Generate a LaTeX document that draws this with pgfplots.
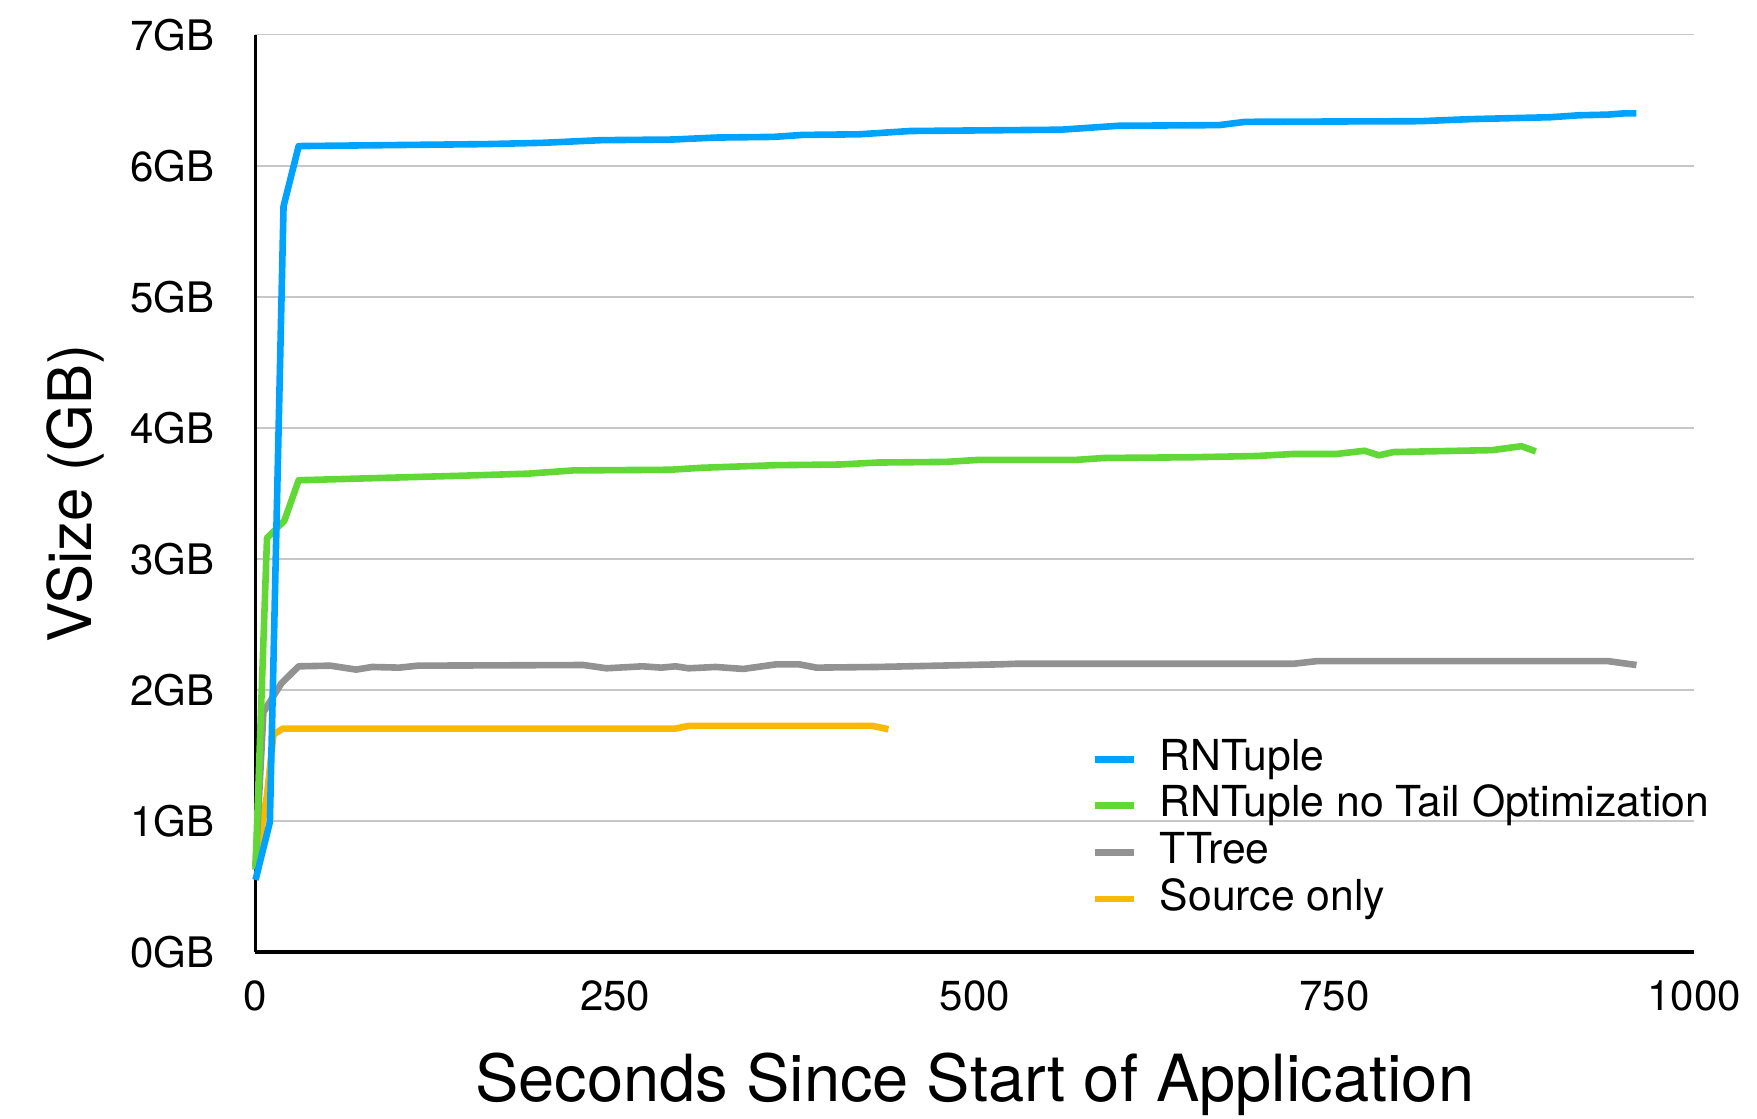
\documentclass[border=0pt]{standalone}
\usepackage{fontspec}
\setmainfont{TeX Gyre Heros}
\usepackage{pgfplots}
\pgfplotsset{compat=1.18}
\definecolor{cblue}{RGB}{0,162,255}
\definecolor{cgreen}{RGB}{97,216,54}
\definecolor{cgray}{RGB}{146,146,146}
\definecolor{cyellow}{RGB}{248,186,0}
\begin{document}
\begin{tikzpicture}
\useasboundingbox (0,0) rectangle (878.5pt,559.5pt);
\begin{axis}[
  at={(127.75pt,83.5pt)}, anchor=south west,
  scale only axis, width=719.25pt, height=458.65pt,
  xmin=0, xmax=1000, ymin=0, ymax=7,
  clip=false,
  axis x line=bottom, axis y line=left,
  axis line style={-, line width=1.6pt, black},
  major tick length=0pt,
  xtick={0,250,500,750,1000}, xticklabels={0,250,500,750,1000},
  ytick={0,1,2,3,4,5,6,7}, yticklabels={0GB,1GB,2GB,3GB,4GB,5GB,6GB,7GB},
  ymajorgrids, grid style={line width=0.8pt, color=black!22},
  ticklabel style={font=\fontsize{21}{25}\selectfont},
  yticklabel style={inner sep=0pt, anchor=east, xshift=-20.5pt},
  xticklabel style={inner sep=0pt, anchor=north, yshift=-14.3pt},
  xlabel={Seconds Since Start of Application},
  ylabel={VSize (GB)},
  xlabel style={font=\fontsize{32.5}{38}\selectfont, at={(axis description cs:0.5,-0.1635)}, anchor=base},
  ylabel style={font=\fontsize{30}{36}\selectfont, at={(axis description cs:-0.1139,0.5)}, anchor=base},
  legend style={draw=none, fill=none, at={(axis description cs:0.5812,0.2322)}, anchor=north west,
    inner sep=0pt, outer sep=0pt, font=\fontsize{21.35}{25}\selectfont, row sep=3.2pt,
    nodes={inner sep=0pt, text height=15.6pt, text depth=4.5pt},
    /tikz/every odd column/.append style={column sep=11.3pt}},
  legend cell align=left,
  reverse legend,
  legend image code/.code={\draw[line width=3.4pt, line cap=butt] (0pt,0pt) -- (19.5pt,0pt);},
  every axis plot/.append style={line width=3.3pt, line join=round},
]
\addplot[cyellow] coordinates {
(0,0.65) (8,1.2) (12.5,1.66) (19,1.705) (292,1.705) (301,1.725) (429,1.725) (440,1.70)
};
\addlegendentry{Source only}
\addplot[cgray] coordinates {
(0,0.65) (5.5,1.83) (18,2.05) (30,2.18) (52,2.185) (70,2.155) (81,2.175) (100,2.17) (113,2.185)
(228,2.19) (244,2.165) (269,2.18) (282,2.17) (292,2.18) (301,2.165) (320,2.175) (339,2.16)
(362,2.195) (378,2.195) (390,2.17) (432,2.175) (517,2.195) (530,2.20) (722,2.20) (738,2.22)
(940,2.22) (960,2.19)
};
\addlegendentry{TTree}
\addplot[cgreen] coordinates {
(0,0.63) (8,3.16) (20,3.29) (30,3.60) (145,3.635) (189,3.65) (221,3.675) (288,3.68) (310,3.695)
(362,3.715) (406,3.72) (432,3.735) (480,3.74) (502,3.755) (570,3.755) (590,3.77) (649,3.775)
(696,3.785) (721,3.80) (751,3.80) (771,3.825) (781,3.79) (791,3.815) (860,3.83) (880,3.86) (890,3.82)
};
\addlegendentry{RNTuple no Tail Optimization}
\addplot[cblue] coordinates {
(0,0.55) (10,0.99) (19.5,5.69) (30,6.15) (160,6.165) (200,6.175) (240,6.195) (290,6.20) (320,6.215)
(360,6.22) (380,6.235) (420,6.24) (455,6.265) (560,6.275) (580,6.29) (600,6.305) (670,6.31)
(688,6.335) (810,6.34) (843,6.355) (880,6.365) (900,6.37) (920,6.385) (940,6.39) (952,6.40) (960,6.40)
};
\addlegendentry{RNTuple}
\end{axis}
\end{tikzpicture}
\end{document}
